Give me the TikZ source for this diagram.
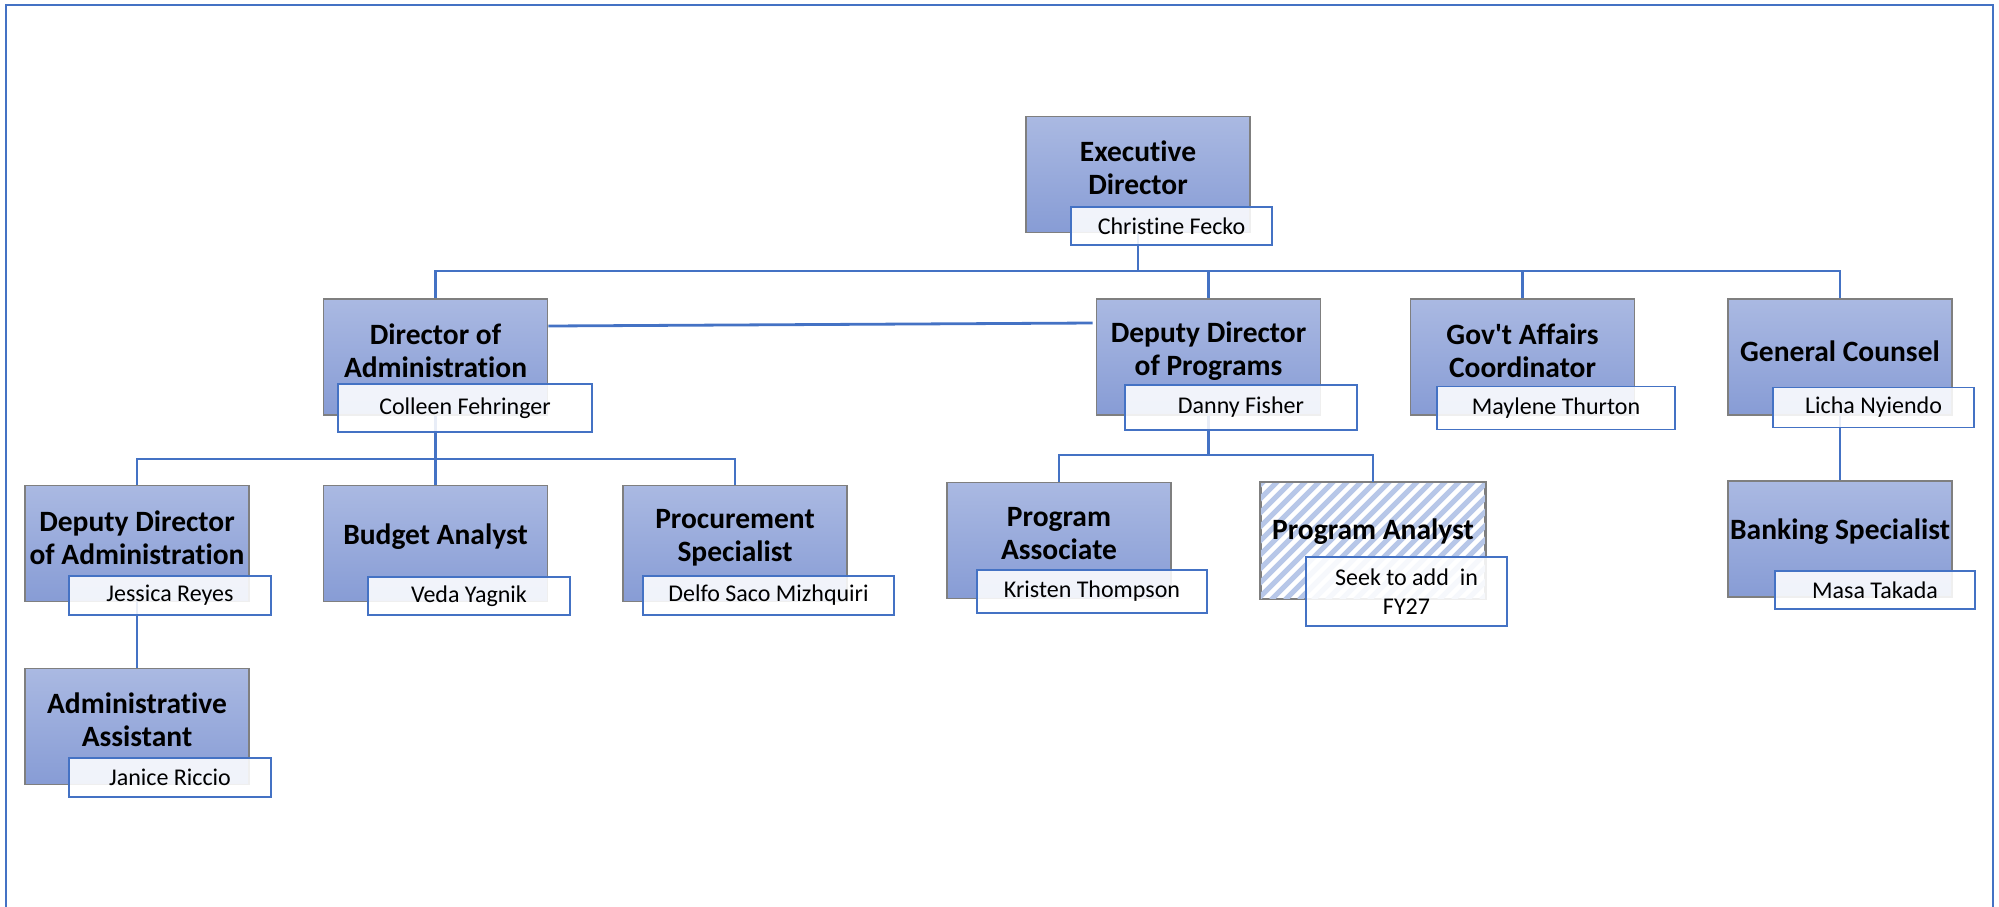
\documentclass[tikz,border=0pt]{standalone}
\usepackage{fontspec}
\setmainfont{Carlito}[Ligatures={TeXOff,CommonOff}]
\definecolor{conncol}{HTML}{4472C4}
\definecolor{namecol}{HTML}{4472C4}
\definecolor{boxline}{HTML}{7F7F7F}
\definecolor{boxtop}{HTML}{AAB9E2}
\definecolor{boxbot}{HTML}{879CD5}
\definecolor{stripecol}{HTML}{B7C7E8}
\newcommand{\titlefont}{\fontsize{29.5}{33}\selectfont\bfseries}
\newcommand{\namefont}{\fontsize{24}{29}\selectfont}
\begin{document}
\begin{tikzpicture}[x=1pt,y=-1pt,
  connector/.style={draw=conncol, line width=2.8pt},
  frameline/.style={draw=conncol, line width=2.2pt},
  titlebox/.style={draw=boxline, line width=1.6pt, top color=boxtop, bottom color=boxbot,
    minimum width=224pt, minimum height=116pt, inner sep=0pt},
  hatchbox/.style={draw=boxline, line width=1.6pt, fill=white,
    minimum width=224pt, minimum height=116pt, inner sep=0pt},
  namebox/.style={draw=namecol, line width=1.6pt, fill=white, fill opacity=0.88,
    text opacity=1, inner sep=0pt, font=\namefont, align=center},
  titletext/.style={font=\titlefont, align=center, inner sep=0pt},
  stripe/.style={draw=stripecol, line width=5pt}
]
\useasboundingbox (0,0) rectangle (1999,906);
% frame
\draw[frameline] (6,912) -- (6,5) -- (1993,5) -- (1993,912);

% title boxes
\node[titlebox] (ed)   at (1138,174.5) {};
\node[titlebox] (da)   at (435.5,357) {};
\node[titlebox] (ddp)  at (1208.5,357) {};
\node[titlebox] (gac)  at (1522.5,357) {};
\node[titlebox] (gc)   at (1840,357) {};
\node[titlebox] (dda)  at (137,543.5) {};
\node[titlebox] (ba)   at (435.5,543.5) {};
\node[titlebox] (ps)   at (735,543.5) {};
\node[titlebox] (pas)  at (1059,540.5) {};
\node[hatchbox] (pan)  at (1373,540.5) {};
\node[titlebox] (bs)   at (1840,539) {};
\node[titlebox] (aa)   at (137,726.5) {};

% hatching of the vacant position
\begin{scope}
  \clip (pan.south west) rectangle (pan.north east);
  \foreach \i in {-130,-116,...,240} {
    \draw[stripe] (1261+\i,600) -- ++(120,-120);
  }
\end{scope}
\draw[draw=boxline, line width=1.6pt] (pan.south west) rectangle (pan.north east);

% title texts
\node[titletext] (edt)  at (1138,168) {Executive\\Director};
\node[titletext] (dat)  at (435.5,351) {Director of\\Administration};
\node[titletext] (ddpt) at (1208.5,351) {Deputy Director\\of Programs};
\node[titletext] (gact) at (1522.5,351) {Gov't Affairs\\Coordinator};
\node[titletext] (gct)  at (1840,351) {General Counsel};
\node[titletext] (ddat) at (137,538) {Deputy Director\\of Administration};
\node[titletext] (bat)  at (435.5,537) {Budget Analyst};
\node[titletext] (pst)  at (735,538) {Procurement\\Specialist};
\node[titletext] (past) at (1059,534) {Program\\Associate};
\node[titletext] (pant) at (1373,532) {Program Analyst};
\node[titletext] (bst)  at (1840,532) {Banking Specialist};
\node[titletext] (aat)  at (137,720) {Administrative\\Assistant};

% connectors
\coordinate (bus1) at (1138,271);
\draw[connector] (ed.south) -- (bus1);
\draw[connector] (bus1) -| (da.north);
\draw[connector] (bus1) -| (ddp.north);
\draw[connector] (bus1) -| (gac.north);
\draw[connector] (bus1) -| (gc.north);
\draw[connector] ([yshift=31pt]da.east) -- ([xshift=-3pt,yshift=34pt]ddp.west);
\coordinate (bus2) at (435.5,459);
\draw[connector] (da.south) -- (bus2);
\draw[connector] (bus2) -| (dda.north);
\draw[connector] (bus2) -| (ba.north);
\draw[connector] (bus2) -| (ps.north);
\coordinate (bus3) at (1208.5,455);
\draw[connector] (ddp.south) -- (bus3);
\draw[connector] (bus3) -| (pas.north);
\draw[connector] (bus3) -| (pan.north);
\draw[connector] (gc.south) -- (bs.north);
\draw[connector] (dda.south) -- (aa.north);

% name boxes
\node[namebox, minimum width=201pt, minimum height=38pt] (edn)  at (1171.5,226) {Christine Fecko};
\node[namebox, minimum width=254pt, minimum height=48pt] (dan)  at (465,408) {Colleen Fehringer};
\node[namebox, minimum width=232pt, minimum height=45pt] (ddpn) at (1241,407.5) {Danny Fisher};
\node[namebox, minimum width=238pt, minimum height=43pt] (gacn) at (1556,408) {Maylene Thurton};
\node[namebox, minimum width=201pt, minimum height=40pt] (gcn)  at (1873.5,407.5) {Licha Nyiendo};
\node[namebox, minimum width=202pt, minimum height=39pt] (ddan) at (170,595.5) {Jessica Reyes};
\node[namebox, minimum width=202pt, minimum height=38pt] (ban)  at (469,596) {Veda Yagnik};
\node[namebox, minimum width=251pt, minimum height=39pt] (psn)  at (768.5,595.5) {Delfo Saco Mizhquiri};
\node[namebox, minimum width=230pt, minimum height=43pt] (pasn) at (1092,591.5) {Kristen Thompson};
\node[namebox, minimum width=201pt, minimum height=69pt] (pann) at (1406.5,591.5) {Seek to add~ in\\FY27};
\node[namebox, minimum width=200pt, minimum height=38pt] (bsn)  at (1875,590) {Masa Takada};
\node[namebox, minimum width=202pt, minimum height=39pt] (aan)  at (170,777.5) {Janice Riccio};
\end{tikzpicture}
\end{document}
